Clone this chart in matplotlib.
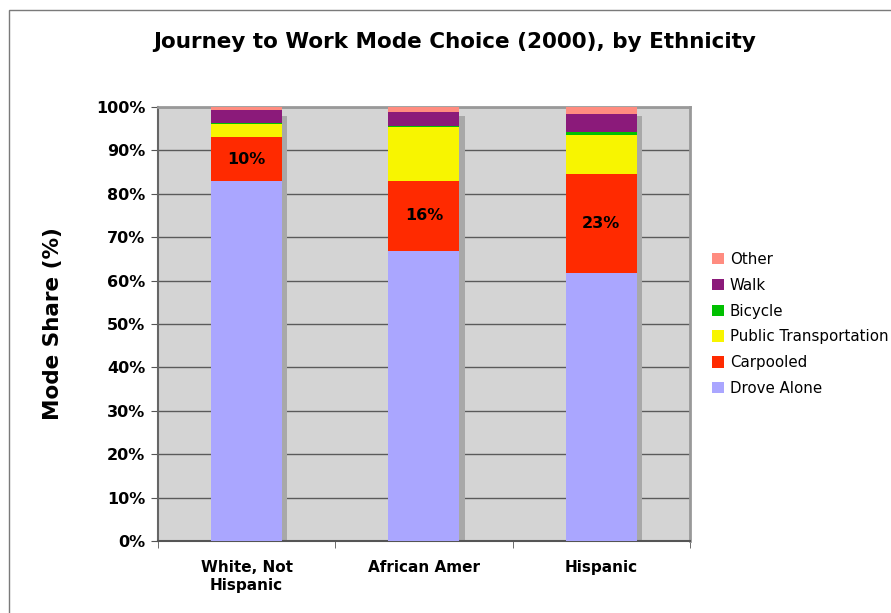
import matplotlib.pyplot as plt
import numpy as np
from matplotlib.patches import Rectangle
from matplotlib.ticker import FixedLocator, PercentFormatter

plt.rcParams['font.family'] = ['DejaVu Sans']

# ========== 数据 ==========
groups = ['White, Not\nHispanic', 'African Amer', 'Hispanic']
modes = ['Drove Alone', 'Carpooled', 'Public Transportation', 'Bicycle', 'Walk', 'Other']
drove_alone = [82.9, 66.9, 61.7]
carpooled = [10.2, 16.1, 22.9]
public_transport = [3.0, 12.4, 9.0]
bicycle = [0.3, 0.2, 0.7]
walk = [2.8, 3.3, 4.1]
other = [0.8, 1.1, 1.6]
carpool_labels = ['10%', '16%', '23%']

colors = ['#AAA6FF', '#FF2A00', '#F8F500', '#00C000', '#8B1A7A', '#FF8C80']
series = [drove_alone, carpooled, public_transport, bicycle, walk, other]

fig = plt.figure(figsize=(8.91, 6.13), dpi=100)
ax = fig.add_axes([0.1773, 0.1175, 0.597, 0.708])
ax.set_facecolor('#D4D4D4')

# 图表外框
fig.patches.append(Rectangle((0.0101, -0.05), 1.2, 0.9837 + 0.05,
                             transform=fig.transFigure, fill=False,
                             edgecolor='#7A7A7A', linewidth=1.0))

x = np.arange(len(groups))
width = 0.4
totals = np.sum(series, axis=0)

# 阴影
ax.bar(x + 0.03, totals - 2.0, width=width, color='#A8A8A8', zorder=2)

bottom = np.zeros(len(groups))
for vals, col, name in zip(series, colors, modes):
    ax.bar(x, vals, width=width, bottom=bottom, color=col, label=name, zorder=3)
    bottom += np.array(vals)

for i, lab in enumerate(carpool_labels):
    ax.text(x[i], drove_alone[i] + carpooled[i] / 2, lab, ha='center', va='center',
            fontsize=11.5, fontweight='bold', zorder=4)

ax.set_xlim(-0.5, 2.5)
ax.set_ylim(0, 100)
ax.yaxis.set_major_locator(FixedLocator(np.arange(0, 101, 10)))
ax.yaxis.set_major_formatter(PercentFormatter(decimals=0))
ax.grid(True, axis='y', color='#5A5A5A', linewidth=1.0, zorder=1)
ax.set_axisbelow(True)

ax.set_xticks(x)
ax.set_xticklabels(groups, fontsize=11, fontweight='bold')
ax.xaxis.set_minor_locator(FixedLocator([-0.5, 0.5, 1.5, 2.5]))
ax.tick_params(axis='x', which='major', length=0, pad=14)
ax.tick_params(axis='x', which='minor', length=5, color='#555555', direction='out')
ax.tick_params(axis='y', length=5, color='#555555', direction='out', pad=4)
for lab in ax.get_yticklabels():
    lab.set_fontweight('bold')
    lab.set_fontsize(11.5)

for side in ['top', 'right']:
    ax.spines[side].set_color('#999999')
    ax.spines[side].set_linewidth(2)
ax.spines['left'].set_color('#666666')
ax.spines['left'].set_linewidth(1.5)
ax.spines['bottom'].set_color('#555555')
ax.spines['bottom'].set_linewidth(1.5)

ax.set_ylabel('Mode Share (%)', fontsize=15.5, fontweight='bold', labelpad=24)

fig.text(0.51, 0.931, 'Journey to Work Mode Choice (2000), by Ethnicity',
         ha='center', va='center', fontsize=15.5, fontweight='bold')

handles, labels = ax.get_legend_handles_labels()
ax.legend(handles[::-1], labels[::-1], loc='center left', bbox_to_anchor=(1.03, 0.5),
          frameon=False, fontsize=10.8, handlelength=0.8, handleheight=0.8,
          handletextpad=0.4, labelspacing=0.72, borderaxespad=0)

plt.savefig('out.png', dpi=100)
plt.close()
